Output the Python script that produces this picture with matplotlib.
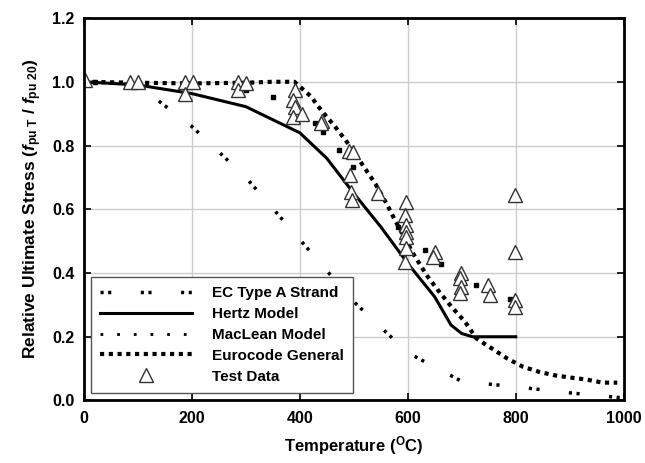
import numpy as np
import matplotlib
matplotlib.use("Agg")
import matplotlib.pyplot as plt
from matplotlib.lines import Line2D

plt.rcParams['font.family'] = ['Liberation Sans', 'DejaVu Sans']
plt.rcParams['font.weight'] = 'bold'
plt.rcParams['mathtext.fontset'] = 'custom'
plt.rcParams['mathtext.rm'] = 'Liberation Sans:bold'
plt.rcParams['mathtext.it'] = 'Liberation Sans:bold:italic'
plt.rcParams['mathtext.bf'] = 'Liberation Sans:bold'

# EC Type A strand
ec_T = [0, 100, 200, 300, 400, 500, 600, 700, 800, 900, 1000]
ec_V = [1.0, 0.99, 0.86, 0.70, 0.505, 0.31, 0.15, 0.06, 0.043, 0.024, 0.008]

# Hertz model
hz_T = [0, 100, 200, 300, 400, 450, 500, 550, 600, 650, 680, 700, 720, 800]
hz_V = [1.0, 0.99, 0.963, 0.922, 0.84, 0.76, 0.65, 0.545, 0.43, 0.325, 0.237, 0.21, 0.2, 0.2]

# MacLean model (single dots)
ml_T = [20, 100, 200, 300, 351, 428, 443, 472, 499, 581, 631, 662, 726, 789]
ml_V = [1.0, 1.0, 0.99, 0.975, 0.952, 0.871, 0.843, 0.787, 0.733, 0.545, 0.471, 0.428, 0.363, 0.32]

# Eurocode general
eg_T = [0, 100, 200, 300, 350, 390, 420, 440, 465, 490, 520, 540, 560, 575, 610, 635, 656,
        681, 706, 727, 755, 784, 813, 843, 872, 901, 930, 961, 988]
eg_V = [1.0, 0.997, 0.995, 0.997, 1.0, 1.0, 0.955, 0.91, 0.86, 0.805, 0.73, 0.68, 0.62, 0.57,
        0.461, 0.393, 0.346, 0.294, 0.247, 0.195, 0.164, 0.132, 0.106, 0.09, 0.079, 0.072,
        0.066, 0.056, 0.056]

# test data
td_T = [2, 85, 100, 187, 187, 202, 286, 286, 301, 391, 388, 391, 388, 405, 442, 440, 491, 498,
        493, 494, 496, 545, 597, 594, 597, 597, 597, 596, 594, 650, 647, 699, 696, 699, 696,
        749, 752, 798, 798, 798, 798]
td_V = [1.005, 1.0, 1.0, 1.0, 0.963, 0.998, 1.0, 0.973, 0.995, 0.973, 0.942, 0.921, 0.888, 0.9,
        0.877, 0.87, 0.783, 0.78, 0.707, 0.655, 0.628, 0.65, 0.623, 0.581, 0.55, 0.529, 0.513,
        0.477, 0.435, 0.466, 0.451, 0.399, 0.383, 0.357, 0.336, 0.362, 0.331, 0.644, 0.466,
        0.315, 0.294]

fig = plt.figure(figsize=(6.45, 4.63), dpi=100)
ax = fig.add_axes([0.130, 0.135, 0.837, 0.826])

ec_style = (0, (0.9, 1.3, 0.9, 8.5))
ax.plot(ec_T, ec_V, color="black", lw=2.5, linestyle=ec_style)
ax.plot(hz_T, hz_V, color="black", lw=2.2)
ax.plot(ml_T, ml_V, color="black", ls="none", marker="s", ms=2.4)
ax.plot(eg_T, eg_V, color="black", lw=3.0, linestyle=(0, (1, 1.1)))
ax.plot(td_T, td_V, ls="none", marker="^", ms=10, mfc="white", mec="#333333", mew=1.0)

handles = [
    Line2D([], [], color="black", lw=2.5, linestyle=ec_style),
    Line2D([], [], color="black", lw=2.2),
    Line2D([], [], color="black", lw=2.0, linestyle=(0, (1, 5))),
    Line2D([], [], color="black", lw=3.0, linestyle=(0, (1, 1.1))),
    Line2D([], [], ls="none", marker="^", ms=10, mfc="white", mec="#333333", mew=1.0),
]
labels = ["EC Type A Strand", "Hertz Model", "MacLean Model", "Eurocode General", "Test Data"]
leg = ax.legend(handles, labels, loc="lower left", bbox_to_anchor=(0.013, 0.02), borderaxespad=0,
                fontsize=11, handlelength=6.0, handletextpad=1.3, labelspacing=0.45,
                fancybox=False, framealpha=1, edgecolor="#555555", borderpad=0.6)
leg.get_frame().set_linewidth(1.0)

ax.set_xlim(0, 1000)
ax.set_ylim(0, 1.2)
ax.set_xticks([0, 200, 400, 600, 800, 1000])
ax.set_yticks([0.0, 0.2, 0.4, 0.6, 0.8, 1.0, 1.2])
ax.set_yticklabels(["0.0", "0.2", "0.4", "0.6", "0.8", "1.0", "1.2"])
ax.grid(True, color="#cccccc", lw=1.0)
ax.set_axisbelow(True)
ax.tick_params(direction="in", top=True, right=True, length=5, width=1.2, labelsize=11.5)
ax.tick_params(axis="y", pad=6.5)
ax.tick_params(axis="x", pad=7.5)
for s in ax.spines.values():
    s.set_linewidth(2.0)

ax.set_xlabel(r"Temperature ($^{\rm O}$C)", fontsize=12, fontweight="bold", labelpad=6)
ax.set_ylabel(r"Relative Ultimate Stress ($f_{\rm pu\ T}$ / $f_{\rm pu\ 20}$)", fontsize=12.5,
              fontweight="bold", labelpad=6)

fig.savefig("out.png", dpi=100)
